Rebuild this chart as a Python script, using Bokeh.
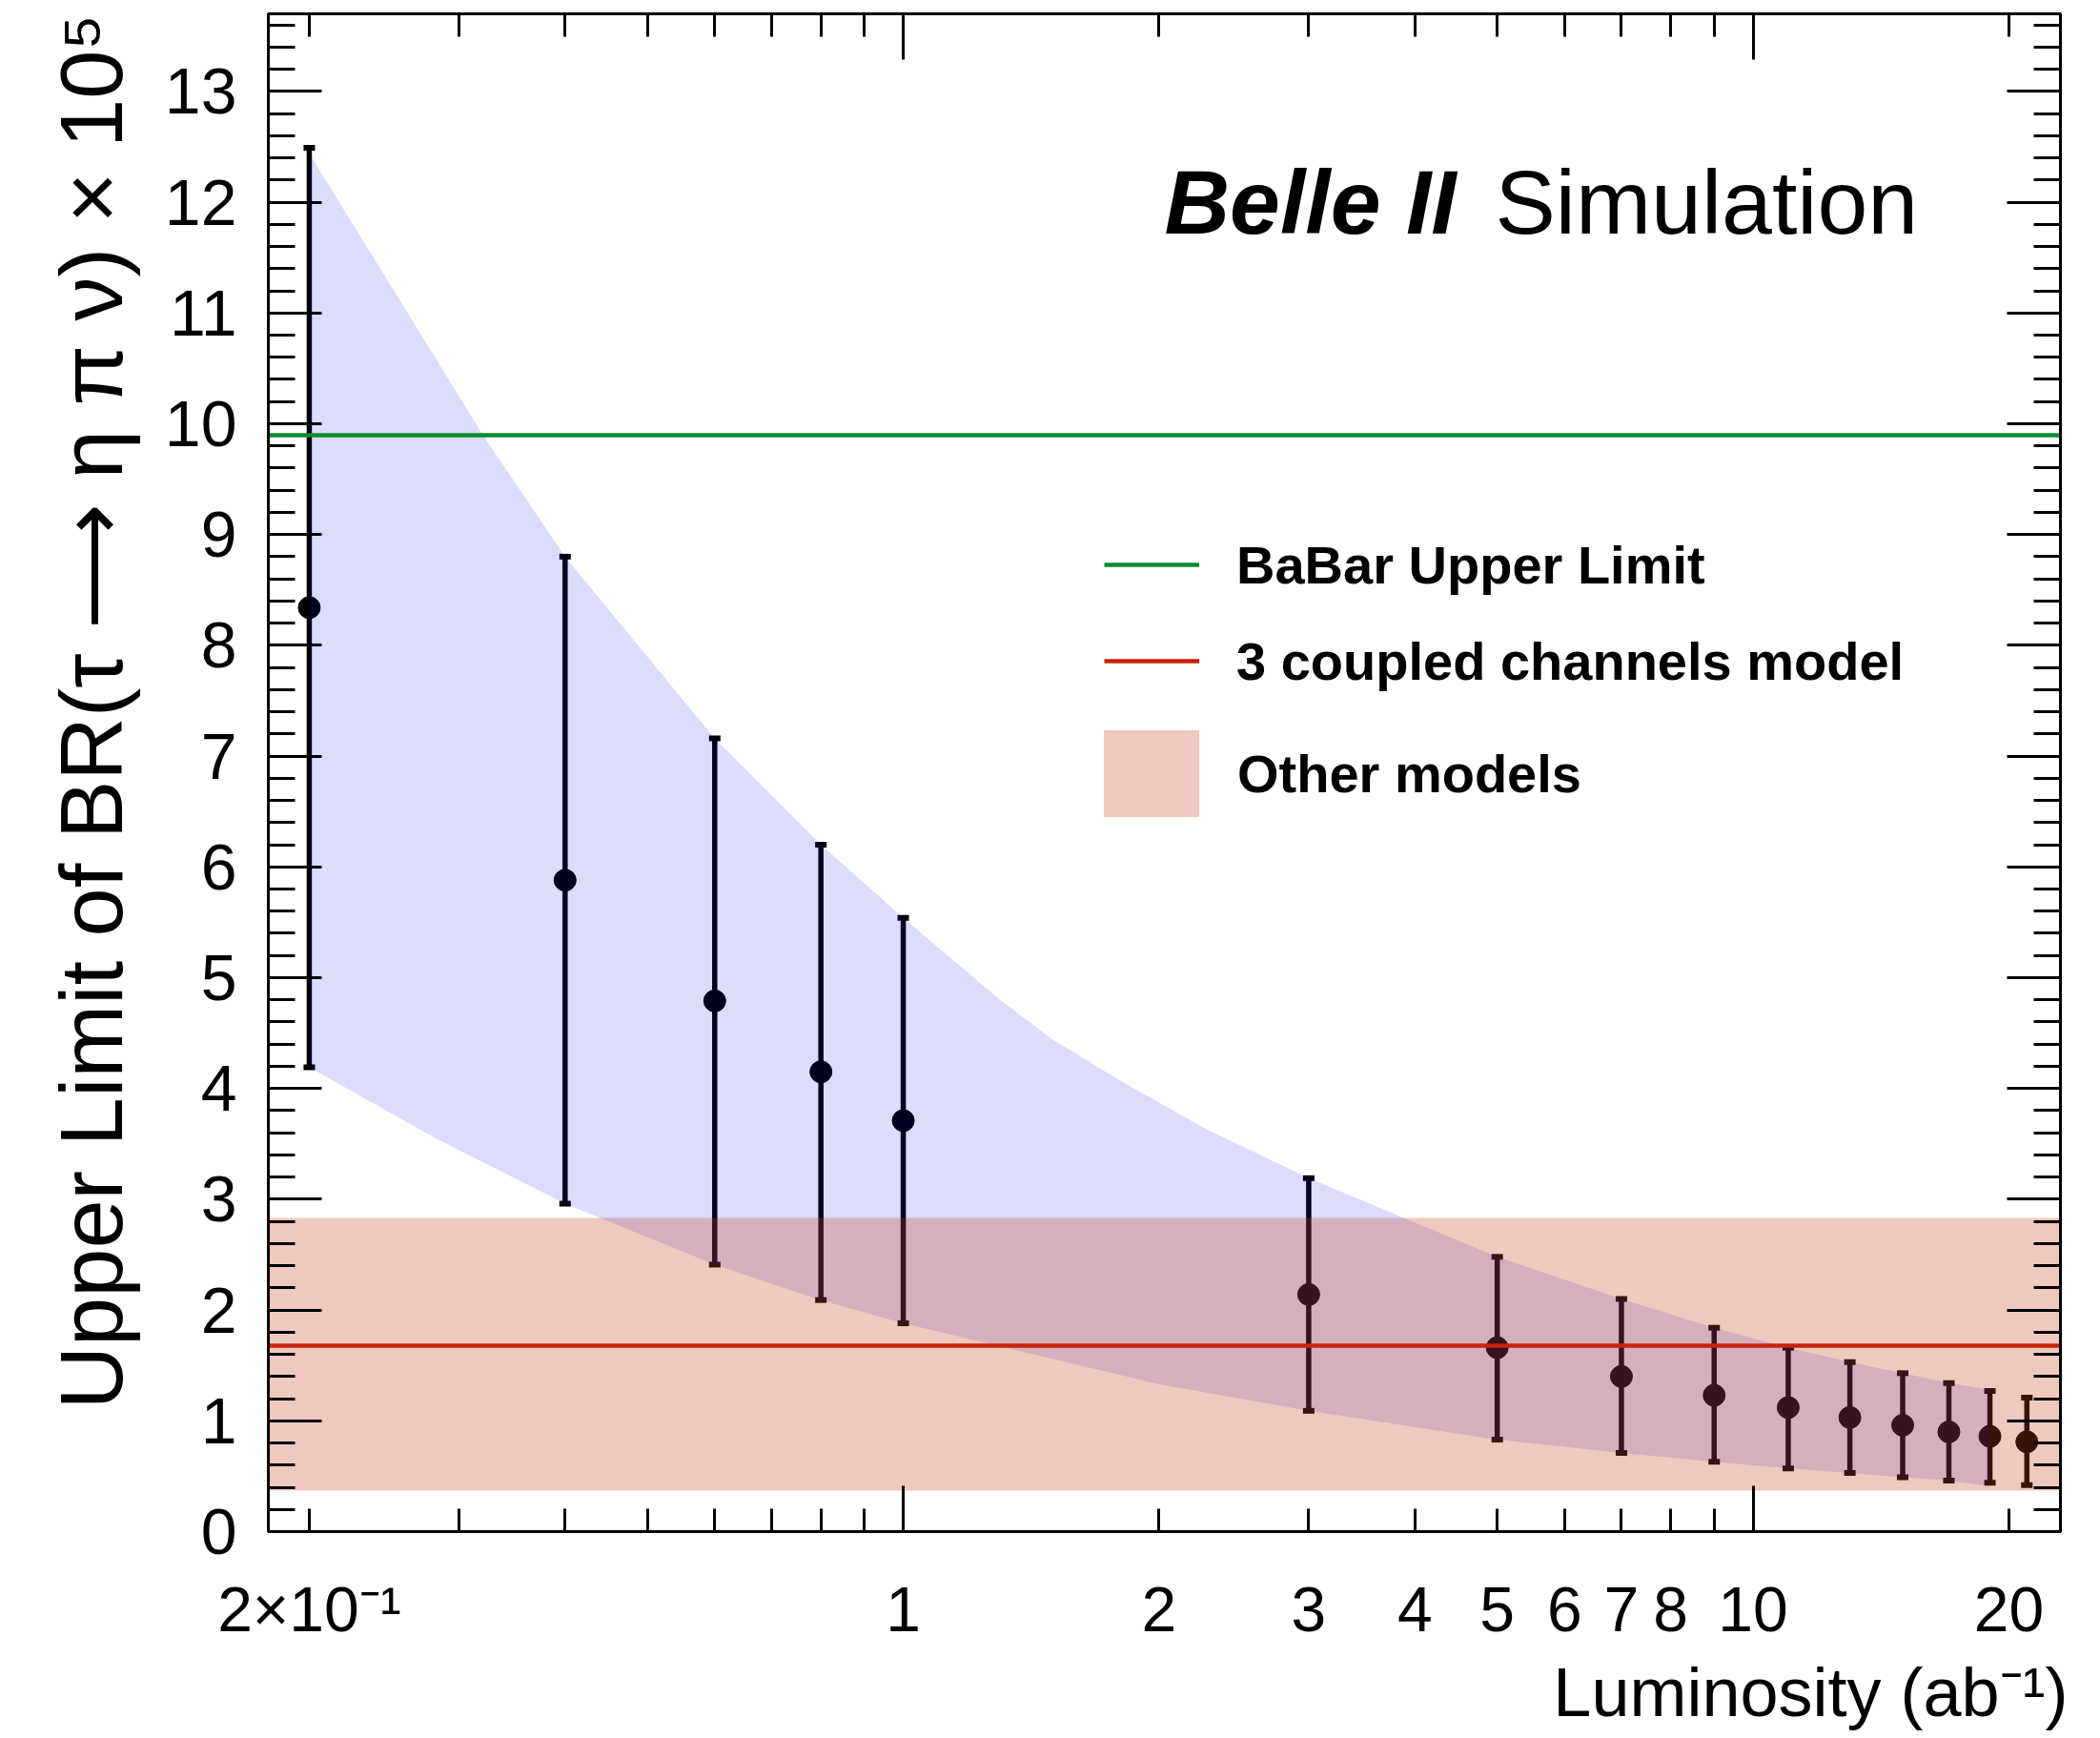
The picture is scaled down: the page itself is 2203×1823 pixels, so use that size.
import math
from bokeh.plotting import figure
from bokeh.models import (Range1d, LinearAxis, LogAxis, FixedTicker, SingleIntervalTicker,
                          Label, Legend, LegendItem, Title)
from bokeh.embed import file_html
from bokeh.resources import INLINE

# ---------------- data ----------------
lumi = [0.2, 0.4, 0.6, 0.8, 1.0, 3, 5, 7, 9, 11, 13, 15, 17, 19, 21]
ul_central = [8.34, 5.88, 4.79, 4.15, 3.71, 2.14, 1.66, 1.40, 1.23, 1.12, 1.03, 0.96, 0.90, 0.86, 0.81]
ul_high = [12.49, 8.80, 7.16, 6.20, 5.54, 3.19, 2.48, 2.10, 1.84, 1.66, 1.53, 1.43, 1.34, 1.27, 1.21]
ul_low = [4.19, 2.96, 2.41, 2.09, 1.88, 1.09, 0.83, 0.71, 0.63, 0.57, 0.53, 0.49, 0.46, 0.44, 0.42]

band_top_x = [0.2, 0.32, 0.4, 0.6, 0.8, 1.0, 1.3, 1.5, 1.8, 2.25, 3, 5, 7, 9, 11, 13, 15, 17, 19]
band_top_y = [12.44, 9.9, 8.80, 7.16, 6.20, 5.54, 4.80, 4.44, 4.07, 3.65, 3.19, 2.48, 2.10, 1.84, 1.66, 1.53, 1.43, 1.34, 1.28]
band_bot_x = [0.2, 0.28, 0.4, 0.6, 0.8, 1.0, 2.0, 3, 5, 7, 9, 11, 13, 15, 17, 19]
band_bot_y = [4.19, 3.56, 2.96, 2.41, 2.09, 1.88, 1.33, 1.09, 0.83, 0.71, 0.63, 0.57, 0.53, 0.49, 0.46, 0.41]

babar_limit = [9.9]
coupled_model = [1.68]
other_models_low = [0.37]
other_models_high = [2.83]

x_tick_values = [0.2, 1, 2, 3, 4, 5, 6, 7, 8, 10, 20]
x_tick_labels = ["2×10⁻¹", "1", "2", "3", "4", "5", "6", "7", "8", "10", "20"]
x_minor_unlabeled = [0.3, 0.4, 0.5, 0.6, 0.7, 0.8, 0.9, 9]
x_decades = [1, 10]
x_all_minor = [0.2, 0.3, 0.4, 0.5, 0.6, 0.7, 0.8, 0.9, 2, 3, 4, 5, 6, 7, 8, 9, 20]

legend_labels = ["BaBar Upper Limit", "3 coupled channels model", "Other models"]
y_title = "Upper Limit of BR(τ ⟶ η π ν) × 10⁵"
x_title = "Luminosity (ab⁻¹)"

# ---------------- layout constants ----------------
W, H = 2203, 1823
FL, FR, FT, FB = 281, 2161, 14, 1606
XMIN, XMAX = 0.179, 23.0
YMIN, YMAX = 0.0, 13.7
FONT = "Liberation Sans"


def px_to_x(px):
    lo, hi = math.log10(XMIN), math.log10(XMAX)
    return 10 ** (lo + (px - FL) / (FR - FL) * (hi - lo))


def py_to_y(py):
    return YMIN + (FB - py) / (FB - FT) * (YMAX - YMIN)


p = figure(width=W, height=H, x_axis_type="log",
           x_range=Range1d(XMIN, XMAX), y_range=Range1d(YMIN, YMAX),
           x_axis_location=None, y_axis_location=None,
           output_backend="svg", toolbar_location=None,
           min_border_left=FL, min_border_right=W - FR,
           min_border_top=FT, min_border_bottom=H - FB)
p.xgrid.visible = False
p.ygrid.visible = False
p.outline_line_color = "black"
p.outline_line_width = 3
p.background_fill_color = "white"
p.border_fill_color = "white"


def style_axis(ax, tick_in, minor_in, labels=False, size="66px", standoff=0):
    ax.axis_line_color = "black"
    ax.axis_line_width = 3
    ax.major_tick_in = tick_in
    ax.major_tick_out = 0
    ax.minor_tick_in = minor_in
    ax.minor_tick_out = 0
    ax.major_tick_line_width = 3
    ax.minor_tick_line_width = 3
    ax.major_tick_line_color = "black"
    ax.minor_tick_line_color = "black"
    if labels:
        ax.major_label_text_font = FONT
        ax.major_label_text_font_size = size
        ax.major_label_text_color = "black"
        ax.major_label_standoff = standoff
    else:
        ax.major_label_text_font_size = "0px"
        ax.major_label_text_color = None
        ax.major_label_standoff = 0


# left axis
yax = LinearAxis(ticker=SingleIntervalTicker(interval=1, num_minor_ticks=5))
style_axis(yax, 56, 28, labels=True, size="68px", standoff=33)
p.add_layout(yax, "left")
# right mirror axis
yax2 = LinearAxis(ticker=SingleIntervalTicker(interval=1, num_minor_ticks=5))
style_axis(yax2, 56, 28)
p.add_layout(yax2, "right")

# bottom: long decade ticks (no labels), then labelled axis
xax_long = LogAxis(ticker=FixedTicker(ticks=x_decades, minor_ticks=[]))
style_axis(xax_long, 48, 0)
p.add_layout(xax_long, "below")
xax = LogAxis(ticker=FixedTicker(ticks=x_tick_values, minor_ticks=x_minor_unlabeled))
style_axis(xax, 24, 24, labels=True, size="66px", standoff=44)
xax.major_label_overrides = {v: lab for v, lab in zip(x_tick_values, x_tick_labels)}
p.add_layout(xax, "below")
# top mirror axis
xax_top = LogAxis(ticker=FixedTicker(ticks=x_decades, minor_ticks=x_all_minor))
style_axis(xax_top, 48, 24)
p.add_layout(xax_top, "above")

# axis titles, right/top aligned as in ROOT
p.add_layout(Title(text=y_title, align="right", text_font=FONT, text_font_size="92px",
                   text_font_style="normal", text_color="black", standoff=45), "left")
p.add_layout(Title(text=x_title, align="right", text_font=FONT, text_font_size="72px",
                   text_font_style="normal", text_color="black", standoff=10, offset=-8),
             "below")

# ---------------- glyphs ----------------
p.segment(x0=lumi, y0=ul_low, x1=lumi, y1=ul_high, line_color="black", line_width=5.5)
p.scatter(x=lumi + lumi, y=ul_low + ul_high, marker="dash", size=12,
          line_color="black", line_width=6)
p.scatter(x=lumi, y=ul_central, marker="circle", size=23, fill_color="black", line_color="black")

# expected band drawn over the points (as in the original)
p.patch(x=band_top_x + band_bot_x[::-1], y=band_top_y + band_bot_y[::-1],
        fill_color="#0000e9", fill_alpha=0.137, line_color=None)

r_other = p.hstrip(y0=other_models_low, y1=other_models_high,
                   fill_color="#c73f23", fill_alpha=0.286, line_color=None)
r_coupled = p.hspan(y=coupled_model, line_color="#c8230a", line_width=4.5)
r_babar = p.hspan(y=babar_limit, line_color="#0f8a32", line_width=4.5)

common = dict(padding=0, margin=0, border_line_color=None, background_fill_alpha=0,
              label_text_font=FONT, label_text_font_style="bold",
              label_text_font_size="56px", label_text_color="black")
legend_lines = Legend(items=[LegendItem(label=legend_labels[0], renderers=[r_babar]),
                             LegendItem(label=legend_labels[1], renderers=[r_coupled])],
                      location=(1158 - FL, 878),
                      glyph_width=100, glyph_height=70, label_standoff=39, spacing=31,
                      **common)
legend_box = Legend(items=[LegendItem(label=legend_labels[2], renderers=[r_other])],
                    location=(1145 - FL, 738),
                    glyph_width=125, glyph_height=114, label_standoff=28, spacing=0,
                    **common)
p.add_layout(legend_lines)
p.add_layout(legend_box)

# ---------------- texts ----------------
p.add_layout(Label(x=px_to_x(1221), y=py_to_y(211), text="Belle II",
                   text_align="left", text_baseline="alphabetic",
                   text_font=FONT, text_font_style="bold italic",
                   text_font_size="95px", text_color="black"))
p.add_layout(Label(x=px_to_x(1568), y=py_to_y(211), text="Simulation",
                   text_align="left", text_baseline="alphabetic",
                   text_font=FONT, text_font_size="95px", text_color="black"))

open("out.html", "w").write(file_html(p, INLINE))
